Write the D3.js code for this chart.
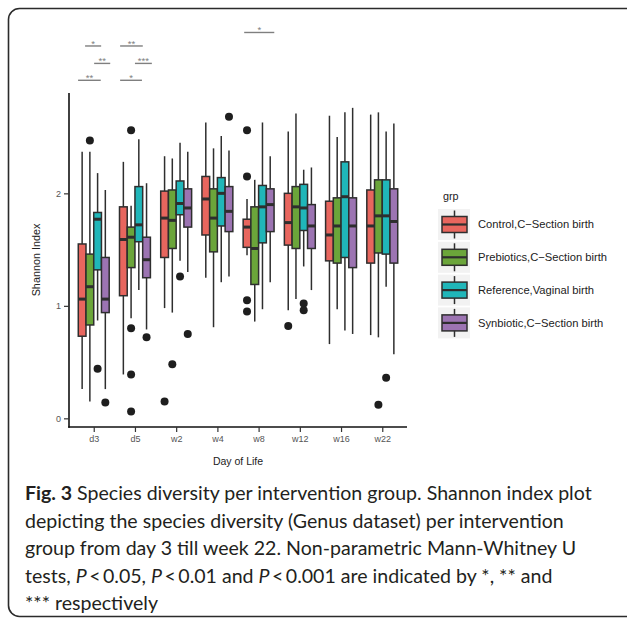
<!DOCTYPE html>
<html>
<head>
<meta charset="utf-8">
<script src="https://cdn.jsdelivr.net/npm/d3@7"></script>
<style>
  html, body { margin: 0; padding: 0; background: #fff; }
  svg { display: block; }
</style>
</head>
<body>
<svg id="chart" width="627" height="618"></svg>
<script>
// ---------------- DATA ----------------
const categories = ["d3", "d5", "w2", "w4", "w8", "w12", "w16", "w22"];
const groups = [
  "Control,C\u2212Section birth",
  "Prebiotics,C\u2212Section birth",
  "Reference,Vaginal birth",
  "Synbiotic,C\u2212Section birth"
];
const groupColors = ["#E8665E", "#6BA53A", "#20B6B9", "#9C74B2"];

// five-number summaries per category: [lower whisker, Q1, median, Q3, upper whisker]
const controlStats = [
  [0.26, 0.73, 1.06, 1.55, 2.37], [0.39, 1.09, 1.59, 1.88, 2.28],
  [0.98, 1.43, 1.78, 2.02, 2.33], [1.25, 1.63, 1.95, 2.15, 2.63],
  [1.45, 1.52, 1.70, 1.77, 1.95], [0.96, 1.54, 1.74, 2.00, 2.55],
  [0.66, 1.40, 1.63, 1.93, 2.69], [0.74, 1.38, 1.71, 2.03, 2.70]
];
const prebioticsStats = [
  [0.15, 0.83, 1.17, 1.46, 2.37], [0.89, 1.34, 1.61, 1.70, 1.89],
  [0.94, 1.51, 1.76, 2.03, 2.31], [0.81, 1.48, 1.78, 2.04, 2.40],
  [0.86, 1.19, 1.51, 1.88, 2.12], [1.06, 1.51, 1.88, 2.06, 2.71],
  [0.97, 1.38, 1.71, 1.96, 2.50], [0.72, 1.47, 1.80, 2.12, 2.72]
];
const referenceStats = [
  [0.87, 1.32, 1.77, 1.83, 2.18], [1.14, 1.57, 1.72, 2.06, 2.48],
  [1.40, 1.81, 1.91, 2.11, 2.45], [1.21, 1.71, 2.00, 2.14, 2.51],
  [0.97, 1.56, 1.88, 2.07, 2.63], [1.35, 1.67, 1.87, 2.08, 2.21],
  [0.78, 1.43, 1.97, 2.28, 2.72], [1.17, 1.46, 1.80, 2.12, 2.55]
];
const synbioticStats = [
  [0.26, 0.94, 1.06, 1.43, 2.03], [0.79, 1.25, 1.41, 1.61, 2.09],
  [1.30, 1.70, 1.87, 2.04, 2.37], [1.26, 1.66, 1.84, 2.06, 2.38],
  [1.21, 1.66, 1.90, 2.04, 2.33], [1.14, 1.51, 1.71, 1.90, 2.23],
  [0.75, 1.34, 1.71, 1.96, 2.76], [0.57, 1.38, 1.75, 2.04, 2.62]
];

// outliers per category (same order as categories)
const controlOutliers    = [[], [], [0.15], [], [2.56, 2.15, 1.05, 0.95], [0.82], [], []];
const prebioticsOutliers = [[2.47], [2.56, 0.80, 0.39, 0.06], [0.48], [], [], [], [], [0.12]];
const referenceOutliers  = [[0.44], [], [1.26], [], [], [1.02, 0.96], [], [0.36]];
const synbioticOutliers  = [[0.14], [0.72], [0.75], [2.68], [], [], [], []];

const yTicks = [0, 1, 2];

// significance annotations
const sigCategory = ["d3", "d3", "d3", "d5", "d5", "d5", "w8"];
const sigFrom     = [-0.21, 0.01, -0.38, -0.36, 0.00, -0.36, -0.35];
const sigTo       = [ 0.18, 0.40,  0.17,  0.19, 0.41,  0.17,  0.38];
const sigLevel    = [3.31, 3.155, 3.005, 3.31, 3.155, 3.005, 3.43];
const sigLabel    = ["*", "**", "**", "**", "***", "*", "*"];

const captionLines = [
  [{t: "Fig. 3", b: true}, {t: " Species diversity per intervention group. Shannon index plot"}],
  [{t: "depicting the species diversity (Genus dataset) per intervention"}],
  [{t: "group from day 3 till week 22. Non-parametric Mann-Whitney U"}],
  [{t: "tests, "}, {t: "P", i: true}, {t: "\u2009<\u20090.05, "}, {t: "P", i: true}, {t: "\u2009<\u20090.01 and "}, {t: "P", i: true}, {t: "\u2009<\u20090.001 are indicated by *, ** and"}],
  [{t: "*** respectively"}]
];

// ---------------- DRAW ----------------
const allStats = [controlStats, prebioticsStats, referenceStats, synbioticStats];
const allOutliers = [controlOutliers, prebioticsOutliers, referenceOutliers, synbioticOutliers];

const svg = d3.select("#chart");
const plotFont = "'Liberation Sans', Arial, Helvetica, sans-serif";

// frame
svg.append("rect")
  .attr("x", 8.5).attr("y", 8.5).attr("width", 640).attr("height", 608)
  .attr("rx", 11).attr("ry", 11)
  .attr("fill", "none").attr("stroke", "#2b2b2b").attr("stroke-width", 1.6);

const x = d3.scalePoint().domain(categories).range([69, 407]).padding(0.6);
const step = x.step();
const y = d3.scaleLinear().domain([-0.077, 2.892]).range([427, 93]);

const dodge = 0.75 * step;
const bw = dodge / groups.length;
const strokeCol = "#2e2e2e";

// boxes
const boxes = [];
allStats.forEach((stats, g) => {
  stats.forEach((s, c) => {
    boxes.push({g, c, s, cx: x(categories[c]) - dodge / 2 + bw * (g + 0.5)});
  });
});
const bg = svg.append("g");
const bx = bg.selectAll("g.box").data(boxes).join("g").attr("class", "box");
bx.append("line")
  .attr("x1", d => d.cx).attr("x2", d => d.cx)
  .attr("y1", d => y(d.s[4])).attr("y2", d => y(d.s[3]))
  .attr("stroke", strokeCol).attr("stroke-width", 1.5);
bx.append("line")
  .attr("x1", d => d.cx).attr("x2", d => d.cx)
  .attr("y1", d => y(d.s[1])).attr("y2", d => y(d.s[0]))
  .attr("stroke", strokeCol).attr("stroke-width", 1.5);
bx.append("rect")
  .attr("x", d => d.cx - bw / 2).attr("width", bw)
  .attr("y", d => y(d.s[3])).attr("height", d => y(d.s[1]) - y(d.s[3]))
  .attr("fill", d => groupColors[d.g])
  .attr("stroke", strokeCol).attr("stroke-width", 1.5);
bx.append("line")
  .attr("x1", d => d.cx - bw / 2).attr("x2", d => d.cx + bw / 2)
  .attr("y1", d => y(d.s[2])).attr("y2", d => y(d.s[2]))
  .attr("stroke", strokeCol).attr("stroke-width", 3);

// outliers
const pts = [];
allOutliers.forEach((outs, g) => {
  outs.forEach((arr, c) => {
    arr.forEach(v => pts.push({g, c, v, cx: x(categories[c]) - dodge / 2 + bw * (g + 0.5)}));
  });
});
svg.append("g").selectAll("circle").data(pts).join("circle")
  .attr("cx", d => d.cx).attr("cy", d => y(d.v)).attr("r", 4)
  .attr("fill", "#1e1e1e");

// axes
const yAxis = svg.append("g").attr("transform", "translate(69,0)")
  .call(d3.axisLeft(y).tickValues(yTicks).tickFormat(d3.format("d")).tickSize(5).tickPadding(3));
const xAxis = svg.append("g").attr("transform", "translate(0,427)")
  .call(d3.axisBottom(x).tickSize(5).tickPadding(4));
[yAxis, xAxis].forEach(a => {
  a.select(".domain").attr("stroke", "#111").attr("stroke-width", 1.6);
  a.selectAll(".tick line").attr("stroke", "#333").attr("stroke-width", 1.2);
  a.selectAll(".tick text").attr("fill", "#555").attr("font-size", 9).attr("font-family", plotFont);
});
yAxis.select(".domain").attr("d", `M0,${y.range()[1]}V${y.range()[0] + 0.8}`);
xAxis.select(".domain").attr("d", `M${x.range()[0] - 0.8},0H${x.range()[1]}`);

// axis titles
svg.append("text").attr("x", 238).attr("y", 464.5).attr("text-anchor", "middle")
  .attr("font-family", plotFont).attr("font-size", 10.5).attr("fill", "#222").text("Day of Life");
svg.append("text").attr("transform", "translate(40,260) rotate(-90)").attr("text-anchor", "middle")
  .attr("font-family", plotFont).attr("font-size", 10.8).attr("fill", "#222").text("Shannon Index");

// significance annotations
const sig = sigLabel.map((l, i) => ({l, cat: sigCategory[i], f: sigFrom[i], t: sigTo[i], v: sigLevel[i]}));
const sg = svg.append("g");
sg.selectAll("line").data(sig).join("line")
  .attr("x1", d => x(d.cat) + d.f * step).attr("x2", d => x(d.cat) + d.t * step)
  .attr("y1", d => y(d.v)).attr("y2", d => y(d.v))
  .attr("stroke", "#7f7f7f").attr("stroke-width", 1.4);
sg.selectAll("text").data(sig).join("text")
  .attr("x", d => x(d.cat) + (d.f + d.t) / 2 * step).attr("y", d => y(d.v) + 1)
  .attr("text-anchor", "middle").attr("font-family", plotFont).attr("font-size", 9.5)
  .attr("fill", "#7f7f7f").text(d => d.l);

// legend
const lg = svg.append("g");
lg.append("text").attr("x", 443).attr("y", 199.5).attr("font-family", plotFont)
  .attr("font-size", 10.8).attr("fill", "#222").text("grp");
groups.forEach((name, i) => {
  const top = 209 + i * 32.8;
  const k = lg.append("g");
  k.append("rect").attr("x", 438).attr("y", top).attr("width", 32).attr("height", 31).attr("fill", "#f2f2f2");
  k.append("line").attr("x1", 454.5).attr("x2", 454.5).attr("y1", top + 1.5).attr("y2", top + 29.5)
    .attr("stroke", strokeCol).attr("stroke-width", 1.5);
  k.append("rect").attr("x", 442).attr("y", top + 7.5).attr("width", 25).attr("height", 16)
    .attr("fill", groupColors[i]).attr("stroke", strokeCol).attr("stroke-width", 1.5);
  k.append("line").attr("x1", 442).attr("x2", 467).attr("y1", top + 15.5).attr("y2", top + 15.5)
    .attr("stroke", strokeCol).attr("stroke-width", 2.2);
  k.append("text").attr("x", 478).attr("y", top + 15.5).attr("dy", "0.35em")
    .attr("font-family", plotFont).attr("font-size", 11.2).attr("fill", "#222").text(name);
});

// caption
const capFont = "Lato, 'Open Sans', sans-serif";
const cg = svg.append("g");
const capTexts = captionLines.map((parts, i) => {
  const t = cg.append("text").attr("x", 25).attr("y", 500 + i * 27.6)
    .attr("font-family", capFont).attr("font-size", 18).attr("fill", "#231f20");
  parts.forEach(p => {
    const ts = t.append("tspan").text(p.t);
    if (p.b) ts.attr("font-weight", "bold");
    if (p.i) ts.attr("font-style", "italic");
  });
  return t;
});
const w1 = capTexts[0].node().getComputedTextLength();
const fs = 18 * 567 / w1;
capTexts.forEach(t => t.attr("font-size", fs));
</script>
</body>
</html>
